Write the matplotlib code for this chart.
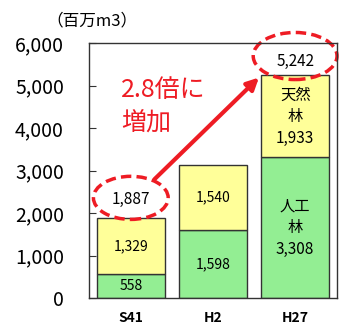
import numpy as np
import matplotlib
matplotlib.use("Agg")
import matplotlib.pyplot as plt
from matplotlib.patches import Ellipse

plt.rcParams['font.family'] = ['Noto Sans CJK JP', 'DejaVu Sans']

# =========================================================
# DATA (百万m3)
# =========================================================

years = ["S41", "H2", "H27"]
planted = [558, 1598, 3308]      # 人工林
natural = [1329, 1540, 1933]     # 天然林
totals = [1887, 3138, 5242]

GREEN = "#93ee93"
YELLOW = "#ffff99"
RED = "#ee1c24"

# =========================================================
# FIGURE
# =========================================================

fig = plt.figure(figsize=(3.46, 3.24), dpi=100)
ax = fig.add_axes([0.257, 0.080, 0.717, 0.787])

x = np.arange(len(years))
ax.bar(x, planted, width=0.83, color=GREEN, edgecolor="#333333", linewidth=1.0)
ax.bar(x, natural, width=0.83, bottom=planted, color=YELLOW,
       edgecolor="#333333", linewidth=1.0)

ax.set_xlim(-0.51, 2.51)
ax.set_ylim(0, 6000)
ax.set_yticks(range(0, 6001, 1000))
ax.set_yticklabels([f"{v:,}" for v in range(0, 6001, 1000)], fontsize=14)
ax.set_xticks(x)
ax.set_xticklabels(years, fontsize=10, fontweight="bold")
ax.tick_params(axis="y", direction="in", length=5, pad=18, color="#333333")
ax.tick_params(axis="x", length=0, pad=9)
for s in ax.spines.values():
    s.set_color("#333333")
    s.set_linewidth(1.0)

# segment labels
for i in range(2):
    ax.text(x[i], planted[i] / 2, f"{planted[i]:,}", ha="center", va="center", fontsize=10)
    ax.text(x[i], planted[i] + natural[i] / 2, f"{natural[i]:,}", ha="center",
            va="center", fontsize=10)
ax.text(x[2], planted[2] / 2, f"人工\n林\n{planted[2]:,}", ha="center", va="center",
        fontsize=11, linespacing=1.35)
ax.text(x[2], planted[2] + natural[2] / 2, f"天然\n林\n{natural[2]:,}", ha="center",
        va="center", fontsize=11, linespacing=1.35)

# totals with dashed ellipses
ax.text(x[0], 2330, f"{totals[0]:,}", ha="center", va="center", fontsize=11)
ax.text(x[2], 5560, f"{totals[2]:,}", ha="center", va="center", fontsize=11)
ax.add_patch(Ellipse((x[0], 2358), 0.91, 1014, fill=False, edgecolor=RED,
                     linewidth=2.5, linestyle=(0, (3, 1.5)), clip_on=False))
ax.add_patch(Ellipse((x[2], 5696), 1.02, 1108, fill=False, edgecolor=RED,
                     linewidth=2.5, linestyle=(0, (3, 1.5)), clip_on=False))

# growth arrow
ax.annotate("", xy=(1.56, 5190), xytext=(0.29, 2800),
            arrowprops=dict(arrowstyle="-|>,head_length=0.7,head_width=0.35",
                            color=RED, lw=3, shrinkA=0, shrinkB=0))
ax.text(-0.12, 4906, "2.8倍に", color=RED, fontsize=18, ha="left", va="center")
ax.text(-0.12, 4120, "増加", color=RED, fontsize=18, ha="left", va="center")

fig.text(0.135, 0.935, "（百万m3）", fontsize=12, ha="left", va="center")

fig.savefig("out.png", dpi=100)
